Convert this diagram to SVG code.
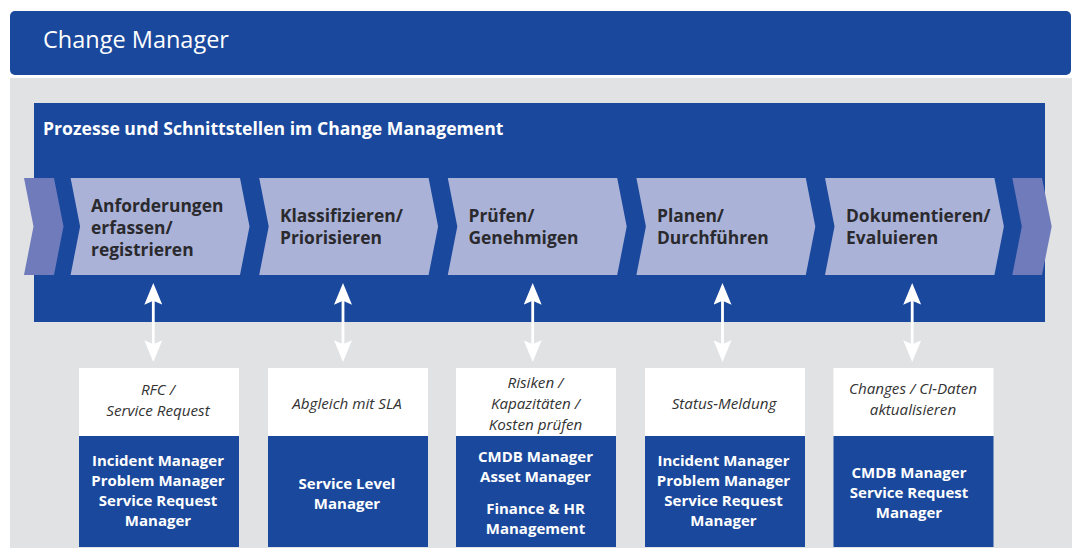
<svg xmlns="http://www.w3.org/2000/svg" width="1072" height="548" viewBox="0 0 1072 548">
<style>
.blue{fill:#1a489d}
.chev{fill:#abb2d8}
.endc{fill:#6f7bbb}
.gray{fill:#e1e2e4}
.white{fill:#ffffff}
.hdr{font-family:"Open Sans","Liberation Sans",sans-serif;font-size:23.5px;fill:#ffffff}
.ttl{font-family:"Open Sans","Liberation Sans",sans-serif;font-size:17.6px;font-weight:bold;fill:#ffffff}
.ct{font-family:"Open Sans","Liberation Sans",sans-serif;font-size:17.4px;font-weight:bold;fill:#2a2a2e}
.it{font-family:"Open Sans","Liberation Sans",sans-serif;font-size:15.2px;font-style:italic;fill:#333333;text-anchor:middle}
.bt{font-family:"Open Sans","Liberation Sans",sans-serif;font-size:15px;font-weight:bold;fill:#ffffff;text-anchor:middle}
.arr{stroke:#ffffff;stroke-width:2.8;fill:none}
</style>
<defs>
<marker id="head" viewBox="0 0 22 18" refX="11" refY="9" markerWidth="22" markerHeight="18" markerUnits="userSpaceOnUse" orient="auto-start-reverse">
<path d="M0,0 L21.6,9 L0,18 L4,9 Z" fill="#ffffff"/>
</marker>
</defs>

<g id="header">
<rect class="blue" x="10" y="11" width="1061" height="64" rx="5"/>
<text class="hdr" x="43" y="48">Change Manager</text>
</g>

<rect class="gray" x="10" y="78" width="1062" height="470"/>

<g id="process">
<rect class="blue" x="34" y="103" width="1011" height="219"/>
<text class="ttl" x="43" y="135">Prozesse und Schnittstellen im Change Management</text>
<polygon class="endc" points="24,178 54,178 63.5,226.5 54,275 24,275 33.5,226.5"/>
<polygon class="endc" points="1012.3,178 1042,178 1051.7,226.5 1042,275 1012.3,275 1021.8,226.5"/>
</g>

<g id="step1">
<polygon class="chev" points="70.6,178 240,178 249.5,226.5 240,275 70.6,275 80.1,226.5"/>
<text class="ct" x="91" y="212">Anforderungen</text>
<text class="ct" x="91" y="234">erfassen/</text>
<text class="ct" x="91" y="256">registrieren</text>
</g>
<g id="step2">
<polygon class="chev" points="259.2,178 428.6,178 438.1,226.5 428.6,275 259.2,275 268.7,226.5"/>
<text class="ct" x="280" y="222">Klassifizieren/</text>
<text class="ct" x="280" y="244">Priorisieren</text>
</g>
<g id="step3">
<polygon class="chev" points="447.8,178 617.2,178 626.7,226.5 617.2,275 447.8,275 457.3,226.5"/>
<text class="ct" x="468.5" y="222">Prüfen/</text>
<text class="ct" x="468.5" y="244">Genehmigen</text>
</g>
<g id="step4">
<polygon class="chev" points="636.4,178 805.8,178 815.3,226.5 805.8,275 636.4,275 645.9,226.5"/>
<text class="ct" x="657" y="222">Planen/</text>
<text class="ct" x="657" y="244">Durchführen</text>
</g>
<g id="step5">
<polygon class="chev" points="825,178 994.4,178 1003.9,226.5 994.4,275 825,275 834.5,226.5"/>
<text class="ct" x="846" y="222">Dokumentieren/</text>
<text class="ct" x="846" y="244">Evaluieren</text>
</g>

<g id="connectors">
<line class="arr" x1="153.3" y1="293.7" x2="153.3" y2="351.3" marker-start="url(#head)" marker-end="url(#head)"/>
<line class="arr" x1="343" y1="293.7" x2="343" y2="351.3" marker-start="url(#head)" marker-end="url(#head)"/>
<line class="arr" x1="532.7" y1="293.7" x2="532.7" y2="351.3" marker-start="url(#head)" marker-end="url(#head)"/>
<line class="arr" x1="722.5" y1="293.7" x2="722.5" y2="351.3" marker-start="url(#head)" marker-end="url(#head)"/>
<line class="arr" x1="912.2" y1="293.7" x2="912.2" y2="351.3" marker-start="url(#head)" marker-end="url(#head)"/>
</g>

<g id="box1">
<rect class="white" x="79" y="368" width="160" height="68"/>
<rect class="blue" x="79" y="436" width="160" height="111"/>
<text class="it" x="158" y="394.5">RFC /</text>
<text class="it" x="158" y="415.5">Service Request</text>
<text class="bt" x="158" y="466">Incident Manager</text>
<text class="bt" x="158" y="486">Problem Manager</text>
<text class="bt" x="158" y="506">Service Request</text>
<text class="bt" x="158" y="526">Manager</text>
</g>
<g id="box2">
<rect class="white" x="268" y="368" width="160" height="68"/>
<rect class="blue" x="268" y="436" width="160" height="111"/>
<text class="it" x="347" y="408.5">Abgleich mit SLA</text>
<text class="bt" x="347" y="489">Service Level</text>
<text class="bt" x="347" y="509">Manager</text>
</g>
<g id="box3">
<rect class="white" x="456" y="368" width="160" height="68"/>
<rect class="blue" x="456" y="436" width="160" height="111"/>
<text class="it" x="535.5" y="387.5">Risiken /</text>
<text class="it" x="535.5" y="408.5">Kapazitäten /</text>
<text class="it" x="535.5" y="429.5">Kosten prüfen</text>
<text class="bt" x="535.5" y="462">CMDB Manager</text>
<text class="bt" x="535.5" y="482">Asset Manager</text>
<text class="bt" x="535.5" y="513.5">Finance &amp; HR</text>
<text class="bt" x="535.5" y="533.5">Management</text>
</g>
<g id="box4">
<rect class="white" x="645" y="368" width="160" height="68"/>
<rect class="blue" x="645" y="436" width="160" height="111"/>
<text class="it" x="724" y="408.5">Status-Meldung</text>
<text class="bt" x="723.5" y="466">Incident Manager</text>
<text class="bt" x="723.5" y="486">Problem Manager</text>
<text class="bt" x="723.5" y="506">Service Request</text>
<text class="bt" x="723.5" y="526">Manager</text>
</g>
<g id="box5">
<rect class="white" x="833.5" y="368" width="160" height="68"/>
<rect class="blue" x="833.5" y="436" width="160" height="111"/>
<text class="it" x="913" y="394">Changes / CI-Daten</text>
<text class="it" x="913" y="415">aktualisieren</text>
<text class="bt" x="909" y="477.5">CMDB Manager</text>
<text class="bt" x="909" y="497.5">Service Request</text>
<text class="bt" x="909" y="517.5">Manager</text>
</g>
</svg>
